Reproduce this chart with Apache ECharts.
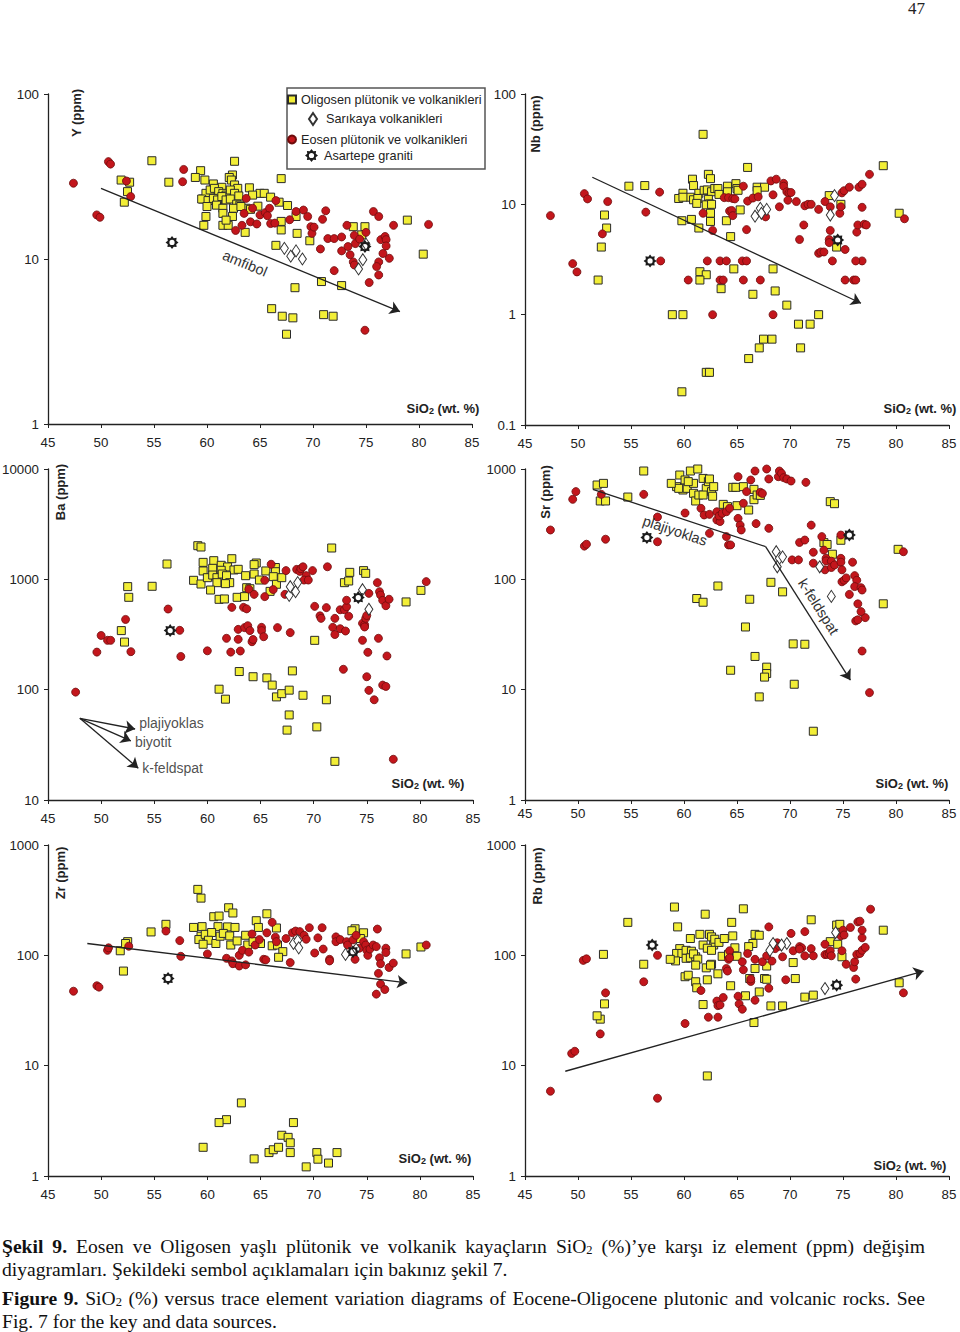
<!DOCTYPE html>
<html><head><meta charset="utf-8">
<script src="https://cdn.jsdelivr.net/npm/echarts@6/dist/echarts.min.js"></script>
<style>html,body{margin:0;padding:0;background:#fff}#c{width:960px;height:1332px}</style>
</head><body><div id="c"></div>
<script>
// ---------------- DATA (SiO2 wt.% , element ppm) ----------------
const X_MIN = 45, X_MAX = 85, X_STEP = 5;
const yRanges = [[1,100],[0.1,100],[10,10000],[1,1000],[1,1000],[1,1000]];
const yNames = ['Y (ppm)','Nb (ppm)','Ba (ppm)','Sr (ppm)','Zr (ppm)','Rb (ppm)'];
const NAME_OLIG = 'Oligosen plütonik ve volkanikleri';
const NAME_SARI = 'Sarıkaya volkanikleri';
const NAME_EOS = 'Eosen plütonik ve volkanikleri';
const NAME_ASAR = 'Asartepe graniti';

// ---- Y ----
const Y_oligosen = [[54.8,39.4],[62.6,39.1],[51.9,30.1],[52.7,29.2],[52.5,25.6],[52.2,22.1],[56.4,29.2],[59.4,34.3],[58.9,31.2],[59.8,30.1],[62.4,32.3],[62.1,31.2],[67.0,30.7],[64.0,27.0],[65.0,25.0],[65.4,25.0],[66.0,23.7],[66.8,22.1],[67.6,21.1],
[60.6,28.5],[61.4,27.2],[62.3,30.1],[62.6,28.1],[62.9,26.8],[59.6,23.1],[59.9,25.0],[60.3,26.2],[60.7,26.8],[61.1,25.6],[61.5,25.0],[61.8,24.4],[62.2,26.2],[62.6,25.0],[63.0,24.1],[64.3,24.4],
[59.5,23.1],[60.1,22.6],[60.6,23.3],[61.0,22.8],[61.4,23.9],[61.8,22.8],[62.2,23.1],[62.8,21.5],[63.1,21.2],[63.7,20.3],[64.8,20.9],[60.0,20.8],[60.9,21.2],[61.5,20.3],[62.5,20.3],[63.2,20.8],[64.1,20.0],
[59.9,18.1],[59.7,16.0],[61.5,18.9],[61.5,16.0],[62.0,16.0],[62.4,18.1],[61.8,17.2],[63.6,14.5],[67.0,16.9],[67.0,15.0],[68.5,14.3],[68.4,18.1],[69.7,12.9],[66.5,12.1],[73.8,15.7],[74.9,15.7],[74.6,14.0],[78.9,17.2],[80.4,10.7],[70.8,7.3],[72.7,6.9],[68.3,6.7],[66.1,5.0],[67.1,4.5],[68.1,4.4],[71.0,4.6],[71.9,4.5],[67.5,3.5]];
const Y_eosen = [[47.4,28.8],[50.7,38.9],[50.9,37.6],[49.6,18.5],[49.9,17.9],[52.8,23.9],[52.4,29.7],[57.8,34.9],[57.7,29.4],[62.7,14.9],[63.5,18.9],[63.7,23.3],[63.3,16.0],[64.1,16.8],[64.3,20.3],[64.7,16.3],[65.0,18.5],[65.5,19.1],[65.9,20.3],[65.7,18.3],[66.0,16.4],[66.5,22.6],[66.4,16.5],[67.8,17.3],[68.4,19.4],[69.1,19.8],[69.5,18.1],[69.8,15.7],[69.9,14.3],[70.1,15.6],[70.9,17.4],[70.7,11.5],[71.2,19.6],[71.4,13.3],[72.0,13.3],[72.0,8.5],[72.7,13.6],[72.7,11.2],[73.2,16.0],[73.3,11.9],[73.5,10.6],[73.8,9.6],[73.9,9.2],[73.9,13.9],[74.0,12.4],[74.4,13.2],[75.0,14.5],[75.7,19.4],[76.2,18.1],[76.4,13.1],[76.6,10.8],[76.2,9.6],[76.0,9.0],[76.2,8.0],[76.8,13.7],[76.9,13.1],[76.9,12.0],[77.2,10.1],[77.6,16.0],[75.3,7.2],[74.9,3.7],[80.9,16.2]];
const Y_sarikaya = [[67.3,11.6],[67.9,10.4],[68.4,11.2],[69.0,10.0],[74.7,9.9],[74.3,8.7],[75.0,12.3]];
const Y_asartepe = [[56.7,12.6],[74.9,11.9]];
const Y_arrow = [[50.0,26.8],[78.2,4.8]];

// ---- Nb ----
const Nb_oligosen = [[61.8,43.1],[66.0,21.6],[78.8,22.4],[62.3,18.7],[60.8,16.9],[62.5,17.1],[54.8,14.6],[56.3,14.8],[60.9,14.8],[64.9,15.4],[64.1,14.6],[65.0,13.9],[66.9,14.3],[67.6,14.3],[59.9,12.6],[60.6,11.6],[61.4,12.6],[61.9,13.4],[62.2,13.5],[62.6,13.0],[62.9,13.9],[63.2,13.9],[63.3,12.3],[59.5,11.3],[59.9,11.6],[60.9,11.0],[61.3,11.3],[62.3,11.1],[62.4,10.1],[61.2,10.2],[62.1,9.9],[65.1,13.4],[66.9,13.3],[64.1,13.0],[65.3,8.9],[62.6,10.0],[62.5,8.3],[62.5,7.0],[59.8,7.1],[60.7,7.3],[64.0,7.1],[61.4,6.1],[64.4,5.1],[52.5,8.0],[52.7,6.1],[52.2,4.1],[51.9,2.06],[61.5,2.45],[62.1,2.3],[61.5,2.06],[64.7,2.6],[63.5,1.72],[66.5,1.53],[68.4,2.6],[68.6,1.64],[69.7,1.22],[58.9,1.0],[59.9,1.0],[70.8,0.82],[71.9,0.82],[72.7,1.0],[67.5,0.6],[68.3,0.6],[67.1,0.5],[71.0,0.5],[66.1,0.4],[62.1,0.3],[62.4,0.3],[59.8,0.2],[80.3,8.3],[73.7,12.0],[74.8,10.0],[74.4,4.1]];
const Nb_eosen = [[47.4,7.9],[49.5,2.9],[49.9,2.44],[50.6,12.5],[50.9,11.2],[52.8,10.6],[52.3,5.4],[56.4,8.5],[57.7,12.9],[57.8,3.07],[60.4,2.06],[61.8,8.3],[62.2,3.07],[62.7,5.8],[62.7,1.0],[63.4,2.06],[63.7,2.06],[63.4,3.07],[64.0,3.07],[63.8,11.5],[64.2,11.5],[64.6,11.3],[64.8,11.2],[64.3,8.7],[64.5,8.8],[64.6,7.9],[65.6,14.6],[66.0,10.7],[65.6,2.06],[65.5,3.07],[65.9,3.07],[65.9,5.9],[66.5,11.4],[67.0,11.7],[67.2,2.06],[67.7,7.7],[68.2,16.3],[68.7,16.9],[68.4,12.2],[68.4,1.0],[69.0,9.5],[69.4,15.5],[69.4,14.6],[69.7,13.0],[69.9,12.7],[70.1,12.8],[69.8,10.9],[70.6,10.6],[70.9,4.8],[71.3,6.5],[71.4,9.7],[71.7,10.0],[72.0,10.0],[72.7,9.0],[72.7,3.6],[72.9,3.7],[73.2,3.7],[73.3,10.6],[73.8,9.5],[73.8,5.8],[73.7,4.8],[73.7,4.5],[74.0,3.07],[74.7,8.3],[74.8,9.5],[74.9,12.7],[75.1,13.3],[75.2,3.9],[75.2,2.06],[75.6,14.3],[76.0,2.06],[76.2,2.06],[76.3,5.6],[76.4,6.5],[76.5,14.3],[76.8,15.2],[76.8,9.4],[76.8,3.07],[76.2,3.07],[77.0,6.6],[77.2,6.5],[77.5,18.7],[80.8,7.4]];
const Nb_sarikaya = [[74.2,12.0],[73.8,8.0],[67.2,9.2],[67.8,9.0],[66.7,7.8],[67.3,8.3]];
const Nb_asartepe = [[56.8,3.07],[74.5,4.75]];
const Nb_arrow = [[51.35,17.6],[76.7,1.27]];

// ---- Ba ----
const Ba_oligosen = [[59.1,2018],[59.4,1963],[71.7,1923],[56.2,1377],[60.6,1476],[59.6,1425],[62.3,1538],[61.3,1340],[61.9,1295],[64.6,1406],[64.4,1359],[59.6,1191],[60.5,1259],[61.3,1208],[62.5,1216],[62.9,1233],[65.5,1191],[66.4,1280],[66.4,1173],[74.7,1199],[74.9,1133],[73.4,1157],[58.7,980],[59.4,907],[60.0,1035],[60.5,1094],[60.9,1035],[61.4,1117],[61.8,1079],[62.1,933],[60.9,933],[61.7,914],[60.3,800],[63.6,1079],[64.4,1117],[64.9,986],[63.7,840],[64.0,822],[66.2,1057],[66.5,902],[67.0,1035],[65.9,778],[61.1,659],[61.6,664],[62.8,687],[63.5,697],[72.9,933],[73.3,966],[80.1,794],[78.7,624],[54.8,865],[52.5,859],[52.6,687],[51.9,343],[52.2,270],[70.1,280],[63.0,146],[64.3,131],[65.6,128],[66.1,110],[68.0,148],[61.1,101],[61.7,82],[66.5,86],[67.0,92],[67.7,99],[69.0,89],[71.2,81],[67.7,59],[67.5,43],[70.3,46],[72.0,22.4]];
const Ba_eosen = [[47.6,95],[49.6,219],[50.0,310],[50.6,280],[50.9,280],[52.3,433],[52.8,221],[56.3,538],[57.4,345],[57.5,200],[60.0,225],[61.8,292],[62.2,219],[62.3,557],[62.9,352],[62.9,286],[63.1,224],[63.4,557],[63.7,540],[63.5,365],[63.8,380],[64.0,343],[64.2,272],[64.3,285],[63.9,815],[64.4,731],[65.1,367],[65.1,343],[65.3,302],[65.4,980],[65.4,697],[66.0,1370],[66.2,808],[66.6,365],[67.3,731],[67.4,1200],[67.8,329],[68.4,1230],[68.7,1180],[68.8,1250],[69.0,1300],[69.3,1080],[69.1,985],[69.5,985],[69.9,1200],[71.3,1300],[70.1,569],[71.2,554],[70.6,467],[70.7,443],[72.0,443],[71.8,367],[72.0,316],[72.5,530],[72.5,357],[73.0,340],[72.9,530],[73.1,565],[73.1,646],[73.3,463],[72.8,153],[74.6,280],[74.6,399],[74.8,387],[74.9,443],[75.0,470],[74.8,370],[75.2,746],[75.1,218],[75.0,131],[75.2,98.6],[75.7,81],[76.0,933],[76.2,773],[76.1,292],[76.3,720],[76.5,645],[76.5,110],[76.8,107],[76.8,577],[76.9,202],[77.1,660],[77.5,23.4],[80.6,953]];
const Ba_sarikaya = [[67.7,716],[68.3,773],[67.8,857],[68.5,934],[74.6,805],[75.2,535]];
const Ba_asartepe = [[56.5,343],[74.2,683]];
const Ba_arrowStart = [48.0,55];
const Ba_arrowEnds = [[53.2,44],[52.8,34.3],[53.5,19.4]];
const Ba_arrowLabels = ['plajiyoklas','biyotit','k-feldspat'];

// ---- Sr ----
const Sr_oligosen = [[51.8,716],[52.4,741],[52.1,513],[52.6,513],[54.7,557],[56.2,959],[59.3,692],[59.6,882],[60.1,795],[60.6,959],[61.3,1000],[59.9,645],[59.5,668],[60.3,668],[60.9,602],[61.1,513],[61.4,581],[61.8,822],[62.1,668],[62.3,768],[62.4,812],[62.6,623],[62.7,566],[62.8,692],[61.8,581],[60.9,741],[60.4,768],[58.8,741],[63.7,478],[64.1,456],[64.6,682],[64.9,682],[65.0,465],[65.6,692],[66.1,425],[66.6,654],[66.6,527],[66.9,581],[67.2,577],[73.8,506],[74.2,485],[73.2,215],[73.5,207],[74.0,169],[74.8,226],[80.2,187],[78.8,60],[63.2,87],[61.2,67],[61.8,62],[68.2,94],[69.3,77],[66.2,66],[65.8,37],[66.7,20],[70.3,26],[71.4,25.8],[64.4,15],[67.8,16],[67.8,14],[67.6,13],[70.4,11.2],[67.1,8.6],[72.2,4.2]];
const Sr_eosen = [[47.4,280],[49.5,531],[49.8,624],[50.6,200],[50.8,208],[52.2,589],[52.6,231],[56.2,589],[57.5,367],[57.5,219],[60.1,399],[61.6,440],[61.9,383],[62.4,388],[62.4,261],[63.1,410],[63.1,345],[63.4,334],[63.3,375],[63.6,396],[64.0,410],[64.3,440],[64.0,244],[64.2,205],[64.4,205],[65.1,852],[65.1,357],[65.3,310],[65.4,280],[65.6,489],[65.9,624],[66.3,795],[66.7,959],[66.8,320],[67.2,615],[67.4,600],[67.8,1000],[68.0,812],[68.0,290],[68.9,852],[69.0,959],[69.2,913],[69.4,835],[69.7,812],[70.1,778],[70.2,150],[70.8,150],[70.9,216],[71.4,227],[71.5,757],[72.0,310],[72.2,176],[72.2,140],[73.0,244],[73.2,184],[73.3,122],[73.4,155],[73.4,147],[73.9,146],[73.9,128],[74.2,135],[74.8,155],[74.8,143],[74.8,252],[74.9,122],[74.9,95],[75.1,98],[75.3,103],[75.6,73],[75.9,143],[76.1,108],[76.3,98],[76.1,86],[76.7,84],[76.8,80],[76.4,60],[76.2,42],[76.4,43],[77.1,45],[76.7,51],[76.8,22.4],[77.5,9.4],[80.7,178]];
const Sr_sarikaya = [[68.7,178],[69.0,155],[68.8,130],[69.3,160],[72.8,130],[73.9,70]];
const Sr_asartepe = [[56.5,239],[75.6,252]];
const Sr_arrow = [[51.4,655],[67.7,198],[75.7,12.2]];

// ---- Zr ----
const Zr_oligosen = [[59.1,396],[59.4,330],[62.0,270],[62.4,242],[65.6,238],[60.6,224],[61.1,227],[64.6,206],[64.8,179],[56.1,191],[58.7,179],[59.5,182],[61.0,182],[61.9,181],[62.6,179],[66.5,177],[73.9,174],[73.6,167],[74.7,160],[54.7,163],[59.4,149],[59.2,139],[59.8,155],[60.4,161],[60.1,137],[60.8,128],[61.2,149],[61.5,158],[62.1,150],[62.2,124],[62.8,135],[63.6,152],[63.8,124],[64.3,133],[65.0,128],[66.1,122],[66.6,124],[67.1,108],[66.7,96],[59.6,126],[74.4,142],[51.8,110],[52.5,133],[52.3,128],[52.1,72],[78.7,103],[80.1,119],[63.2,4.6],[61.8,3.24],[61.1,3.05],[59.6,1.82],[64.4,1.43],[65.8,1.63],[66.2,1.73],[66.7,1.82],[67.0,2.34],[67.6,2.24],[67.8,2.0],[67.8,1.63],[68.1,3.05],[69.3,1.21],[70.3,1.63],[70.4,1.42],[71.4,1.31],[72.2,1.63]];
const Zr_eosen = [[47.4,47.3],[49.6,53],[49.8,51.5],[50.6,111],[50.7,117],[52.6,121],[56.1,166],[57.4,136],[57.5,98],[60.0,103],[61.8,94],[62.3,89],[62.4,84],[63.0,80],[63.6,82],[63.0,100],[63.3,111],[63.9,107],[64.2,156],[64.5,124],[64.9,139],[65.3,92],[65.5,91],[65.6,160],[66.1,199],[66.4,146],[66.5,133],[67.4,142],[67.8,86],[68.0,160],[68.3,166],[68.7,164],[69.1,152],[69.3,140],[69.6,178],[70.1,105],[70.4,144],[70.8,178],[70.9,114],[71.5,92],[71.5,89],[72.1,147],[72.1,133],[72.5,139],[73.1,133],[73.2,124],[73.7,138],[74.0,152],[73.9,92],[74.3,116],[74.7,133],[74.9,124],[75.0,111],[75.1,100],[75.3,114],[75.6,124],[75.9,120],[76.0,173],[75.9,44.5],[76.1,68.6],[76.2,95],[76.3,54.8],[76.7,49],[76.3,84],[76.8,116],[76.8,106],[77.1,77.6],[77.5,85],[80.6,124]];
const Zr_sarikaya = [[68.1,128],[68.5,136],[68.6,117],[73.0,102],[74.0,114]];
const Zr_asartepe = [[56.3,61.7],[73.7,108]];
const Zr_arrow = [[48.7,128],[78.8,56.4]];

// ---- Rb ----
const Rb_oligosen = [[59.1,274],[65.6,264],[62.0,236],[54.7,199],[64.5,199],[72.0,210],[59.4,181],[74.4,188],[74.7,191],[78.8,169],[60.6,142],[61.5,155],[62.4,155],[62.6,147],[62.8,124],[62.9,140],[63.3,131],[63.8,142],[64.6,150],[61.8,124],[62.2,116],[66.7,155],[67.1,152],[66.5,128],[66.1,120],[64.8,117],[62.6,111],[59.6,115],[59.3,104],[59.8,104],[60.2,111],[60.7,109],[60.2,94],[60.6,95],[61.1,97],[60.9,103],[61.3,92.5],[59.2,89],[58.7,92],[61.1,81.5],[62.1,77],[62.6,83],[63.6,98],[64.2,102],[65.0,98],[73.8,133],[74.5,126],[74.9,97],[56.2,83],[52.4,102],[52.5,36.3],[52.1,26.4],[51.8,28.3],[60.1,64],[60.4,66],[61.1,57.6],[61.2,50.8],[61.8,35.8],[62.2,60],[62.5,81.5],[63.2,68],[64.4,53],[65.8,43],[66.2,61.6],[66.7,76],[67.1,46.6],[67.6,61.6],[67.8,60.7],[67.8,80],[68.2,34.8],[69.3,34.8],[70.3,86],[70.5,61.6],[71.4,41.8],[72.2,43.6],[66.6,24.6],[80.3,56.4],[62.2,8.07]];
const Rb_eosen = [[47.4,5.87],[49.4,12.9],[49.7,13.5],[50.5,90],[50.8,93],[52.1,19.4],[52.6,45.7],[56.2,57.6],[57.5,100],[57.5,5.07],[60.1,24.1],[61.6,48],[62.3,27.5],[63.2,27.5],[63.1,38.5],[63.2,35],[63.4,35.5],[63.7,41.5],[64.0,76],[64.1,72],[64.3,110],[64.2,92],[64.3,95],[65.1,42.6],[65.2,36.3],[65.5,32.5],[65.5,87.5],[65.6,74],[66.0,104],[66.3,58],[66.3,61],[66.7,92],[66.7,39.2],[67.4,87.5],[68.0,181],[67.8,99],[68.0,50.4],[68.3,88.7],[68.6,115],[68.8,130],[69.0,121],[69.3,97],[69.6,60],[70.1,158],[70.3,110],[70.9,120],[71.1,117],[70.9,114],[71.4,164],[71.4,99],[72.0,115],[72.2,99],[73.3,126],[73.3,101.5],[73.5,102],[73.7,104],[73.8,110],[73.9,99],[74.8,150],[74.9,110],[75.0,169],[75.1,153],[75.3,83],[75.7,179],[76.0,77.6],[76.1,87.5],[76.2,60.9],[76.3,102],[76.4,201],[76.6,104],[76.6,204],[76.8,111],[76.8,144],[76.8,169],[77.1,118],[77.6,262],[80.7,45.7]];
const Rb_sarikaya = [[68.4,128],[69.7,128],[68.1,111],[69.2,124],[74.3,161],[73.3,50]];
const Rb_asartepe = [[57.0,124],[74.4,53.7]];
const Rb_arrow = [[48.8,8.9],[82.6,72]];

// caption text (rich markup: b = bold, s = subscript)
const captionLines = [
  '{b|Şekil} {b|9.} Eosen ve Oligosen yaşlı plütonik ve volkanik kayaçların SiO{s|2} (%)’ye karşı iz element (ppm) değişim',
  'diyagramları. Şekildeki sembol açıklamaları için bakınız şekil 7.',
  '{b|Figure} {b|9.} SiO{s|2} (%) versus trace element variation diagrams of Eocene-Oligocene plutonic and volcanic rocks. See',
  'Fig. 7 for the key and data sources.'
];

// ---------------- LAYOUT / STYLE ----------------
const FONT = '"Liberation Sans", Arial, sans-serif';
const SERIF = '"Liberation Serif", "Times New Roman", serif';
const grids = [
  {left:48, top:94, width:424, height:330},
  {left:525, top:94, width:424, height:331},
  {left:48, top:469, width:425, height:331},
  {left:525, top:469, width:424, height:331},
  {left:48, top:845, width:425, height:331},
  {left:525, top:845, width:424, height:331}
];
const xLabelMargin = [12,12,12,7,12,12];
const yNamePos = [[76,113],[535,124],[60,492],[545,492],[60,873],[537,876]];
const sioPos = [[443,408],[920,408],[428,783],[912,783],[435,1158],[910,1165]];
const captionY = [1246,1269,1298,1321];
const captionJustify = [true,false,true,false];
const GEAR = 'path://M10 0L12.7 3.5L17.1 2.9L16.5 7.3L20 10L16.5 12.7L17.1 17.1L12.7 16.5L10 20L7.3 16.5L2.9 17.1L3.5 12.7L0 10L3.5 7.3L2.9 2.9L7.3 3.5ZM10 6A4 4 0 1 0 10 14A4 4 0 1 0 10 6Z';

const panelData = [
  [Y_oligosen, Y_eosen, Y_sarikaya, Y_asartepe],
  [Nb_oligosen, Nb_eosen, Nb_sarikaya, Nb_asartepe],
  [Ba_oligosen, Ba_eosen, Ba_sarikaya, Ba_asartepe],
  [Sr_oligosen, Sr_eosen, Sr_sarikaya, Sr_asartepe],
  [Zr_oligosen, Zr_eosen, Zr_sarikaya, Zr_asartepe],
  [Rb_oligosen, Rb_eosen, Rb_sarikaya, Rb_asartepe]
];

const styOlig = {symbol:'rect', symbolSize:8, itemStyle:{color:'#f2ee36', borderColor:'#2a2a2a', borderWidth:1, opacity:1}};
const styEos = {symbol:'circle', symbolSize:8, itemStyle:{color:'#c3161c', borderColor:'#6e0c0c', borderWidth:0.8, opacity:1}};
const stySari = {symbol:'diamond', symbolSize:[8,12], itemStyle:{color:'#ffffff', borderColor:'#333', borderWidth:1, opacity:1}};
const styAsar = {symbol:GEAR, symbolSize:13, itemStyle:{color:'#1c1c1c', borderWidth:0, opacity:1}};

const series = [];
panelData.forEach((p, i) => {
  const base = {type:'scatter', xAxisIndex:i, yAxisIndex:i, silent:true, emphasis:{disabled:true}};
  series.push(Object.assign({}, base, styOlig, {name:NAME_OLIG, data:p[0]}));
  series.push(Object.assign({}, base, styEos, {name:NAME_EOS, data:p[1]}));
  series.push(Object.assign({}, base, stySari, {name:NAME_SARI, data:p[2]}));
  series.push(Object.assign({}, base, styAsar, {name:NAME_ASAR, data:p[3]}));
});

const annLabel = {show:true, fontSize:14.5, color:'#333', fontFamily:FONT};
function arrowSeries(i, lines) {
  return {type:'line', xAxisIndex:i, yAxisIndex:i, data:[], silent:true,
    markLine:{silent:true, animation:false, symbol:['none','arrow'], symbolSize:10,
      lineStyle:{color:'#222', width:1.3, type:'solid'}, label:{show:false}, emphasis:{disabled:true},
      data:lines}};
}
series.push(arrowSeries(0, [[{coord:Y_arrow[0], label:Object.assign({position:'insideMiddleBottom', formatter:'amfibol', distance:7}, annLabel)}, {coord:Y_arrow[1]}]]));
series.push(arrowSeries(1, [[{coord:Nb_arrow[0]}, {coord:Nb_arrow[1]}]]));
series.push(arrowSeries(2, Ba_arrowEnds.map(e => [{coord:Ba_arrowStart}, {coord:e}])));
series.push(arrowSeries(3, [
  [{coord:Sr_arrow[0], symbol:'none', label:Object.assign({position:'insideMiddleBottom', formatter:'plajiyoklas', distance:6}, annLabel)}, {coord:Sr_arrow[1], symbol:'none'}],
  [{coord:Sr_arrow[1], symbol:'none', label:Object.assign({position:'insideMiddleTop', formatter:'k-feldspat'}, annLabel)}, {coord:Sr_arrow[2], symbol:'arrow'}]
]));
series.push(arrowSeries(4, [[{coord:Zr_arrow[0]}, {coord:Zr_arrow[1]}]]));
series.push(arrowSeries(5, [[{coord:Rb_arrow[0]}, {coord:Rb_arrow[1]}]]));
// Ba arrow tip labels
const baLabelOffsets = [[0,-6],[0,1],[0,0]];
series.push({type:'scatter', xAxisIndex:2, yAxisIndex:2, silent:true, symbol:'circle', symbolSize:0,
  data:Ba_arrowEnds.map((e,k)=>({value:e, label:{formatter:Ba_arrowLabels[k], offset:baLabelOffsets[k]}})),
  label:{show:true, position:'right', distance:4, fontSize:14, color:'#222', fontFamily:FONT}});

const axisLineStyle = {color:'#222', width:1.3};
const xAxes = grids.map((g,i)=>({type:'value', gridIndex:i, min:X_MIN, max:X_MAX, interval:X_STEP,
  axisLine:{show:true, onZero:false, lineStyle:axisLineStyle},
  axisTick:{show:true, length:4, lineStyle:{color:'#222'}},
  axisLabel:{margin:xLabelMargin[i], fontSize:13.3, color:'#222', fontFamily:FONT, showMinLabel:true, showMaxLabel:true},
  splitLine:{show:false}}));
const yAxes = grids.map((g,i)=>({type:'log', logBase:10, gridIndex:i, min:yRanges[i][0], max:yRanges[i][1],
  axisLine:{show:true, onZero:false, lineStyle:axisLineStyle},
  axisTick:{show:true, length:4, lineStyle:{color:'#222'}},
  axisLabel:{margin:9, fontSize:13.3, color:'#222', fontFamily:FONT, showMinLabel:true, showMaxLabel:true,
    formatter:v=>String(+Number(v).toPrecision(6))},
  splitLine:{show:false}, minorTick:{show:false}, minorSplitLine:{show:false}}));

const graphic = [];
yNames.forEach((n,i)=>{
  graphic.push({type:'text', x:yNamePos[i][0], y:yNamePos[i][1], rotation:Math.PI/2, z:50,
    style:{text:n, fontSize:13, fontWeight:'bold', fontFamily:FONT, fill:'#222', align:'center', verticalAlign:'middle', textAlign:'center', textVerticalAlign:'middle'}});
  graphic.push({type:'text', x:sioPos[i][0], y:sioPos[i][1], z:50,
    style:{text:'SiO{s|2} (wt. %)', fontSize:13, fontWeight:'bold', fontFamily:FONT, fill:'#222', align:'center', verticalAlign:'middle', textAlign:'center', textVerticalAlign:'middle',
      rich:{s:{fontSize:9, fontWeight:'bold', fontFamily:FONT, fill:'#222', verticalAlign:'bottom', padding:[5,0,0,0]}}}});
});
// legend frame
graphic.push({type:'rect', z:1, shape:{x:287, y:88, width:198, height:81}, style:{fill:'transparent', stroke:'#555', lineWidth:1.5}});
// page number
graphic.push({type:'text', x:925, y:8, style:{text:'47', fontSize:17, fontFamily:SERIF, fill:'#222', align:'right', verticalAlign:'middle', textAlign:'right', textVerticalAlign:'middle'}});

// caption: word-by-word layout, first and third lines justified to the right margin
const CAP_SIZE = 19.6, CAP_SUB = 12.5, CAP_LEFT = 2, CAP_RIGHT = 925;
const capRich = {
  b:{fontSize:CAP_SIZE, fontWeight:'bold', fontFamily:SERIF, fill:'#111'},
  s:{fontSize:CAP_SUB, fontFamily:SERIF, fill:'#111', verticalAlign:'bottom', padding:[7,0,0,0]}
};
const mctx = document.createElement('canvas').getContext('2d');
function capFont(k){ return k==='b' ? 'bold '+CAP_SIZE+'px "Liberation Serif"' : (k==='s' ? CAP_SUB+'px "Liberation Serif"' : CAP_SIZE+'px "Liberation Serif"'); }
function wordWidth(w){
  let t = 0;
  w.replace(/\{(\w)\|([^}]*)\}|([^{]+)/g, (m,k,txt,plain)=>{
    mctx.font = capFont(plain!==undefined ? 'n' : k);
    t += mctx.measureText(plain!==undefined ? plain : txt).width;
    return m;
  });
  return t;
}
mctx.font = capFont('n');
const spaceW = mctx.measureText(' ').width;
captionLines.forEach((line, li)=>{
  const words = line.split(' ');
  const widths = words.map(wordWidth);
  const total = widths.reduce((a,b)=>a+b,0);
  const gap = captionJustify[li] ? (CAP_RIGHT - CAP_LEFT - total)/(words.length-1) : spaceW;
  let x = CAP_LEFT;
  words.forEach((w,k)=>{
    graphic.push({type:'text', x:x, y:captionY[li], style:{text:w, fontSize:CAP_SIZE, fontFamily:SERIF, fill:'#111', align:'left', verticalAlign:'middle', textAlign:'left', textVerticalAlign:'middle', rich:capRich}});
    x += widths[k] + gap;
  });
});

const legText = (pl)=>({fontSize:12.7, color:'#222', fontFamily:FONT, padding:[0,0,0,pl]});
const legBase = {orient:'horizontal', padding:0, selectedMode:false, itemGap:0, z:20};
const legend = [
  Object.assign({}, legBase, {data:[NAME_OLIG], left:287, top:93, itemWidth:8, itemHeight:8, textStyle:legText(0)}),
  Object.assign({}, legBase, {data:[NAME_SARI], left:308, top:112, itemWidth:8, itemHeight:12, textStyle:legText(4)}),
  Object.assign({}, legBase, {data:[NAME_EOS], left:287, top:133, itemWidth:8, itemHeight:8, textStyle:legText(0)}),
  Object.assign({}, legBase, {data:[NAME_ASAR], left:305, top:149, itemWidth:13, itemHeight:13, textStyle:legText(1)})
];

const chart = echarts.init(document.getElementById('c'), null, {renderer:'svg', width:960, height:1332});
chart.setOption({
  backgroundColor:'#ffffff',
  animation:false,
  textStyle:{fontFamily:FONT},
  grid:grids.map(g=>Object.assign({containLabel:false, outerBoundsMode:'none'}, g)),
  xAxis:xAxes,
  yAxis:yAxes,
  legend:legend,
  graphic:graphic,
  series:series
});
</script>
</body></html>
